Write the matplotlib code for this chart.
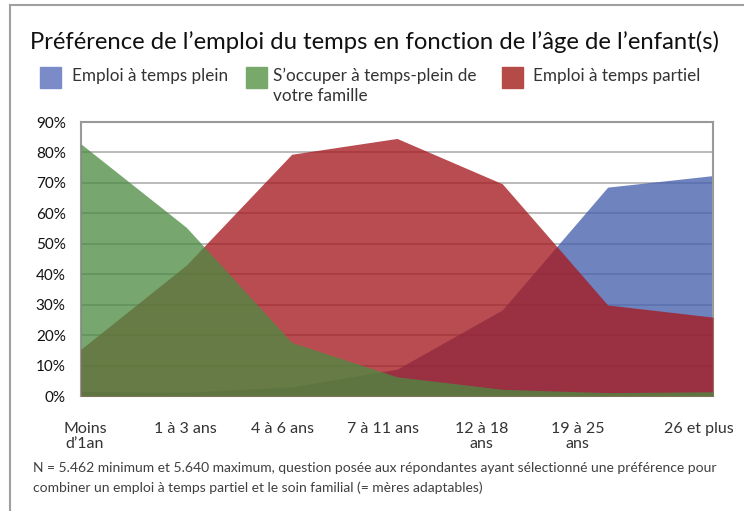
import numpy as np
import matplotlib
matplotlib.use("Agg")
import matplotlib.pyplot as plt
from matplotlib.lines import Line2D
from matplotlib.transforms import ScaledTranslation

# categories and values (fractions)
ages = ["Moins\nd\u20191an", "1 à 3 ans", "4 à 6 ans", "7 à 11 ans", "12 à 18\nans", "19 à 25\nans", "26 et plus"]
plein = [0.015, 0.012, 0.03, 0.088, 0.283, 0.686, 0.724]
famille = [0.828, 0.554, 0.176, 0.063, 0.022, 0.011, 0.014]
partiel = [0.154, 0.43, 0.794, 0.846, 0.697, 0.299, 0.259]

series_names = ["Emploi à temps plein", "S\u2019occuper à temps-plein de\nvotre famille", "Emploi à temps partiel"]

plt.rcParams["font.family"] = ["Lato", "DejaVu Sans"]

fig = plt.figure(figsize=(7.44, 5.11), dpi=100)
ax = fig.add_axes([81/744, 1-396/511, 632/744, 274/511])

x = np.arange(len(ages))
ax.set_axisbelow(True)
ax.yaxis.grid(True, color="#b4b4b4", lw=1.3)
ax.fill_between(x, 0, plein, color="#4660ae", alpha=0.78, lw=0, zorder=2)
ax.fill_between(x, 0, partiel, color="#a61a1f", alpha=0.78, lw=0, zorder=3)
ax.fill_between(x, 0, famille, color="#4c8b42", alpha=0.76, lw=0, zorder=4)

ax.set_xlim(0, len(ages)-1)
ax.set_ylim(0, 0.9)
yt = np.arange(0, 0.91, 0.1)
ax.set_yticks(yt)
ax.set_yticklabels([f"{int(round(v*100))}%" for v in yt], fontsize=11, color="#111111")
ax.set_xticks(x)
ax.set_xticklabels(ages, fontsize=11.5, color="#333333", linespacing=1.1, multialignment="center")
ax.tick_params(length=0)
ax.tick_params(axis="x", pad=19)
ax.tick_params(axis="y", pad=11)
# the excel labels sit a bit off their ticks
shifts = [4, -1, -9, -14, -21, -30, -14]
for lab, dx in zip(ax.get_xticklabels(), shifts):
    lab.set_transform(lab.get_transform() + ScaledTranslation(dx/100, 0, fig.dpi_scale_trans))
for s in ax.spines.values():
    s.set_color("#999999")
    s.set_linewidth(1.5)

fig.text(30/744, 1-42/511, "Préférence de l\u2019emploi du temps en fonction de l\u2019âge de l\u2019enfant(s)",
         fontsize=17.2, va="center", ha="left", color="#111111")

# legend drawn by hand
leg_cols = ["#7a8bc8", "#78a86a", "#b54b46"]
leg_x = [40, 246, 502]
leg_tx = [72, 273, 533]
for name, col, lx, tx in zip(series_names, leg_cols, leg_x, leg_tx):
    fig.patches.append(plt.Rectangle((lx/744, 1-88/511), 21/744, 21/511, transform=fig.transFigure,
                                     color=col, figure=fig))
    fig.text(tx/744, 1-68/511, name, fontsize=12.3, va="top", ha="left", color="#333333", linespacing=1.3)

fig.text(33/744, 1-462/511,
         "N = 5.462 minimum et 5.640 maximum, question posée aux répondantes ayant sélectionné une préférence pour\n"
         "combiner un emploi à temps partiel et le soin familial (= mères adaptables)",
         fontsize=10, va="top", ha="left", color="#404040", linespacing=1.75)

# frame around the figure (top and left visible)
fig.add_artist(Line2D([10/744, 1], [1-5/511, 1-5/511], color="#a0a0a0", lw=1.5))
fig.add_artist(Line2D([10/744, 10/744], [1-5/511, 0], color="#a0a0a0", lw=1.5))

fig.savefig("out.png", dpi=100)
